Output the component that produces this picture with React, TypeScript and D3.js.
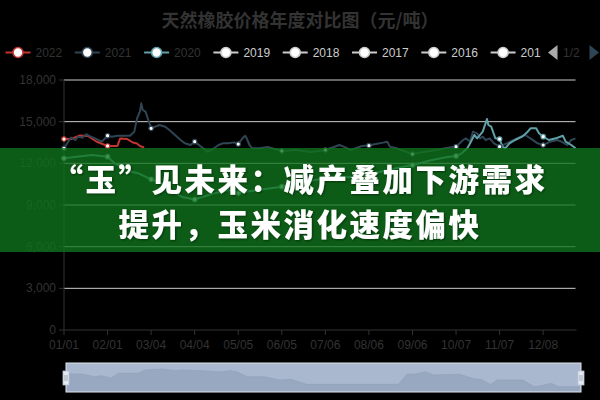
import React from "react";
import * as d3 from "d3";

// chart texts
const title = "天然橡胶价格年度对比图（元/吨）";
const bannerLines = ["“玉”见未来：减产叠加下游需求", "提升，玉米消化速度偏快"];

// legend (page 1 of 2)
const legendYears = ["2022", "2021", "2020", "2019", "2018", "2017", "2016", "2015"];
const activeYears = ["2022", "2021", "2020"];
const palette = ["#c23531", "#2f4554", "#61a0a8"];

const yTicks = [0, 3000, 6000, 9000, 12000, 15000, 18000];

// one category per calendar day (non-leap year)
const categories = d3
  .timeDay.range(new Date(2021, 0, 1), new Date(2022, 0, 1))
  .map(d3.timeFormat("%m/%d"));

type Pt = [string, number];

const series2022: Pt[] = [
  ["01/01", 13750], ["01/06", 13750], ["01/12", 14000], ["01/18", 13970],
  ["01/24", 13570], ["02/01", 13250], ["02/08", 13250], ["02/10", 13790],
  ["02/15", 13750], ["02/19", 13500], ["02/22", 13430], ["02/24", 13250],
  ["02/27", 13140],
];

const series2021: Pt[] = [
  ["01/01", 13080], ["01/04", 13560], ["01/06", 13850], ["01/09", 13680],
  ["01/11", 13920], ["01/14", 13850], ["01/17", 14090], ["01/20", 13920],
  ["01/23", 13800], ["01/28", 13560], ["02/01", 13990], ["02/04", 13920],
  ["02/08", 13990], ["02/13", 13990], ["02/17", 13990], ["02/20", 14280],
  ["02/22", 15240], ["02/24", 15720], ["02/25", 16320], ["02/26", 15840],
  ["02/28", 15720], ["03/02", 15120], ["03/04", 14520], ["03/07", 14640],
  ["03/10", 14760], ["03/14", 14640], ["03/17", 14400], ["03/21", 14040],
  ["03/25", 13680], ["03/28", 13440], ["04/01", 13320], ["04/04", 13560],
  ["04/07", 13320], ["04/10", 13080], ["04/13", 12840], ["04/16", 12960],
  ["04/21", 13320], ["04/24", 13440], ["04/28", 13440], ["05/02", 13510],
  ["05/05", 13390], ["05/08", 13800], ["05/10", 13990], ["05/11", 13800],
  ["05/13", 13320], ["05/15", 13080], ["05/20", 13080], ["05/26", 13180],
  ["06/05", 12890], ["06/15", 12960], ["06/26", 12820], ["07/06", 12960],
  ["07/16", 13320], ["07/19", 13200], ["07/24", 12960], ["08/01", 13250],
  ["08/06", 13280], ["08/10", 13370], ["08/16", 13490], ["08/19", 13560],
  ["08/21", 13200], ["08/25", 13100], ["08/29", 12960], ["09/06", 12670],
  ["09/14", 12820], ["09/23", 12960], ["10/01", 13130], ["10/07", 13200],
  ["10/12", 13680], ["10/14", 13800], ["10/17", 13560], ["10/19", 14280],
  ["10/22", 14160], ["10/24", 13800], ["10/26", 13920], ["10/28", 13680],
  ["10/31", 13800], ["11/03", 13440], ["11/07", 13200], ["11/12", 13440],
  ["11/17", 13680], ["11/22", 13920], ["11/25", 14040], ["11/29", 13800],
  ["12/04", 13440], ["12/08", 13320], ["12/13", 13560], ["12/18", 13680],
  ["12/21", 13560], ["12/25", 13320], ["12/28", 13680], ["12/31", 13800],
];

const series2020: Pt[] = [
  ["01/01", 12360], ["01/10", 12480], ["01/21", 12600], ["02/01", 12480],
  ["02/06", 12000], ["02/14", 11640], ["02/18", 11400], ["02/23", 11280],
  ["03/04", 10850], ["03/11", 10580], ["03/16", 10150], ["03/26", 9580],
  ["04/04", 9400], ["04/10", 9600], ["04/18", 9840], ["04/29", 10080],
  ["05/05", 9860], ["05/19", 10080], ["06/05", 10320], ["06/20", 10650],
  ["07/06", 10920], ["07/28", 11040], ["08/06", 11200], ["08/09", 11280],
  ["08/26", 11660], ["09/06", 11880], ["09/20", 12240], ["10/01", 12460],
  ["10/07", 12530], ["10/11", 12720], ["10/15", 13080], ["10/17", 13440],
  ["10/20", 14040], ["10/22", 13800], ["10/26", 14280], ["10/29", 15190],
  ["10/30", 14760], ["11/01", 14640], ["11/04", 13800], ["11/07", 13750],
  ["11/09", 13200], ["11/11", 13080], ["11/14", 13440], ["11/18", 13680],
  ["11/23", 13920], ["11/27", 14280], ["11/29", 14520], ["12/03", 14520],
  ["12/05", 14160], ["12/08", 13920], ["12/12", 13680], ["12/17", 13800],
  ["12/22", 13990], ["12/24", 13560], ["12/28", 13320], ["12/31", 13080],
];

// data zoom shadow (relative level 0..29)
const sliderShadow: Pt[] = [
  ["01/01", 18], ["01/04", 18], ["01/12", 18], ["01/21", 15.3], ["01/26", 16.3],
  ["02/02", 14], ["02/07", 18.7], ["02/21", 18.7], ["02/26", 22], ["03/10", 23],
  ["03/20", 21.3], ["03/23", 22], ["04/08", 21.3], ["04/20", 20], ["04/27", 21.3],
  ["05/02", 20.3], ["05/09", 15.3], ["05/21", 15.3], ["06/01", 12], ["06/09", 12.7],
  ["06/20", 7.7], ["08/24", 7.7], ["08/30", 17.7], ["09/05", 18], ["09/12", 20.3],
  ["09/18", 17], ["10/06", 17.7], ["10/17", 13], ["10/21", 12.7], ["10/28", 7.7],
  ["11/02", 12], ["11/20", 12], ["11/28", 5.3], ["12/03", 6.3], ["12/10", 8.7],
  ["12/15", 5.3], ["12/31", 5.3],
];

const seriesList = [
  { name: "2022", data: series2022, color: palette[0] },
  { name: "2021", data: series2021, color: palette[1] },
  { name: "2020", data: series2020, color: palette[2] },
];

const latin = "'Liberation Sans', Arial, sans-serif";
const cjk = "'Noto Sans CJK SC', 'Noto Sans', sans-serif";
const axisColor = "#333";

const App: React.FC = () => {
  const width = 600;
  const height = 400;
  const plot = { left: 64, right: 575.5, top: 80, bottom: 330 };

  const x = d3.scalePoint<string>().domain(categories).range([plot.left, plot.right]);
  const y = d3.scaleLinear().domain([0, 18000]).range([plot.bottom, plot.top]);

  const labelCats = categories.filter((_, i) => i % 31 === 0);
  const line = d3
    .line<Pt>()
    .x((d) => x(d[0]) as number)
    .y((d) => y(d[1]));

  // slider
  const slider = { left: 66, right: 581, top: 363, bottom: 392 };
  const sx = d3.scalePoint<string>().domain(categories).range([slider.left, slider.right]);
  const sy = d3.scaleLinear().domain([0, 29]).range([slider.bottom, slider.top]);
  const shadowArea = d3
    .area<Pt>()
    .x((d) => sx(d[0]) as number)
    .y0(slider.bottom)
    .y1((d) => sy(d[1]));
  const shadowLine = d3
    .line<Pt>()
    .x((d) => sx(d[0]) as number)
    .y((d) => sy(d[1]));

  const legendStart = 5.5;
  const legendStep = 69.3;
  const legendY = 52.5;

  return (
    <div
      style={{
        position: "fixed",
        left: 0,
        top: 0,
        width,
        height,
        background: "#000",
      }}
    >
      <svg width={width} height={height} style={{ display: "block" }}>
        <defs>
          <clipPath id="legendClip">
            <rect x={0} y={35} width={541} height={35} />
          </clipPath>
          <filter id="txtShadow" x="-5%" y="-20%" width="110%" height="140%">
            <feDropShadow dx="1" dy="1" stdDeviation="1" floodColor="#000" floodOpacity="0.45" />
          </filter>
        </defs>
        <rect width={width} height={height} fill="#000" />

        <text
          x={300}
          y={19}
          textAnchor="middle"
          dominantBaseline="central"
          fontFamily={cjk}
          fontWeight={700}
          fontSize={18}
          fill={axisColor}
        >
          {title}
        </text>

        {/* legend */}
        <g clipPath="url(#legendClip)">
          {legendYears.map((name, i) => {
            const x0 = legendStart + i * legendStep;
            const idx = activeYears.indexOf(name);
            const c = idx >= 0 ? palette[idx] : "#ccc";
            return (
              <g key={name}>
                <line x1={x0} x2={x0 + 25} y1={legendY} y2={legendY} stroke={c} strokeWidth={2} />
                <circle cx={x0 + 12.5} cy={legendY} r={5} fill="#fff" stroke={c} strokeWidth={1.6} />
                <text
                  x={x0 + 30}
                  y={legendY}
                  dominantBaseline="central"
                  fontFamily={latin}
                  fontSize={12}
                  fill={idx >= 0 ? axisColor : "#ccc"}
                >
                  {name}
                </text>
              </g>
            );
          })}
        </g>
        <polygon points="548,52.5 557.5,45 557.5,60" fill="#aaa" />
        <text x={563} y={legendY} dominantBaseline="central" fontFamily={latin} fontSize={12} fill={axisColor}>
          1/2
        </text>
        <polygon points="589.5,45 599,52.5 589.5,60" fill="#2f4554" />

        {/* grid lines */}
        {yTicks
          .filter((t) => t > 0)
          .map((t) => (
            <line key={t} x1={plot.left} x2={plot.right} y1={y(t)} y2={y(t)} stroke="#ccc" strokeWidth={1} />
          ))}

        {/* y axis */}
        <line x1={plot.left} x2={plot.left} y1={plot.top} y2={plot.bottom} stroke={axisColor} />
        {yTicks.map((t) => (
          <g key={t}>
            <line x1={plot.left - 5} x2={plot.left} y1={y(t)} y2={y(t)} stroke={axisColor} />
            <text
              x={plot.left - 8}
              y={y(t)}
              textAnchor="end"
              dominantBaseline="central"
              fontFamily={latin}
              fontSize={12}
              fill={axisColor}
            >
              {d3.format(",")(t)}
            </text>
          </g>
        ))}

        {/* x axis */}
        <line x1={plot.left} x2={plot.right + 1} y1={plot.bottom} y2={plot.bottom} stroke={axisColor} />
        {labelCats.map((c) => (
          <g key={c}>
            <line x1={x(c)} x2={x(c)} y1={plot.bottom} y2={plot.bottom + 5} stroke={axisColor} />
            <text
              x={x(c)}
              y={345}
              textAnchor="middle"
              dominantBaseline="central"
              fontFamily={latin}
              fontSize={12}
              fill={axisColor}
            >
              {c}
            </text>
          </g>
        ))}

        {/* series */}
        {seriesList.map((s) => (
          <path key={s.name} d={line(s.data) || ""} fill="none" stroke={s.color} strokeWidth={2} strokeLinejoin="round" />
        ))}
        {seriesList.map((s) => (
          <g key={s.name + "-dots"}>
            {s.data
              .filter((d) => labelCats.includes(d[0]))
              .map((d) => (
                <circle
                  key={d[0]}
                  cx={x(d[0])}
                  cy={y(d[1])}
                  r={2.2}
                  fill="#fff"
                  stroke={s.color}
                  strokeWidth={1.2}
                />
              ))}
          </g>
        ))}

        {/* data zoom slider */}
        <rect
          x={slider.left}
          y={slider.top}
          width={slider.right - slider.left}
          height={slider.bottom - slider.top}
          fill="#a9b8cf"
        />
        <path d={shadowArea(sliderShadow) || ""} fill="#98a8c0" />
        <path d={shadowLine(sliderShadow) || ""} fill="none" stroke="#8e9fb8" strokeWidth={0.6} />
        <rect
          x={slider.left}
          y={slider.top}
          width={slider.right - slider.left}
          height={slider.bottom - slider.top}
          fill="none"
          stroke="#dde3ec"
          strokeWidth={1}
        />
        {[slider.left, slider.right].map((hx) => (
          <g key={hx}>
            <rect x={hx - 3} y={371} width={6} height={14} fill="#e4e9f0" stroke="#b5c1d3" strokeWidth={0.8} />
            <line x1={hx - 1} x2={hx - 1} y1={375} y2={381} stroke="#8a98ac" strokeWidth={0.8} />
            <line x1={hx + 1} x2={hx + 1} y1={375} y2={381} stroke="#8a98ac" strokeWidth={0.8} />
          </g>
        ))}

        {/* headline banner overlay */}
        <rect x={0} y={148} width={width} height={104} fill="rgb(16,116,28)" opacity={0.78} />
        <g filter="url(#txtShadow)">
          {bannerLines.map((t, i) => (
            <text
              key={t}
              x={300}
              y={178 + i * 44.5}
              textAnchor="middle"
              dominantBaseline="central"
              fontFamily={cjk}
              fontWeight={900}
              fontSize={30.5}
              letterSpacing={2.5}
              fill="#fff"
            >
              {t}
            </text>
          ))}
        </g>
      </svg>
    </div>
  );
};

export default App;
